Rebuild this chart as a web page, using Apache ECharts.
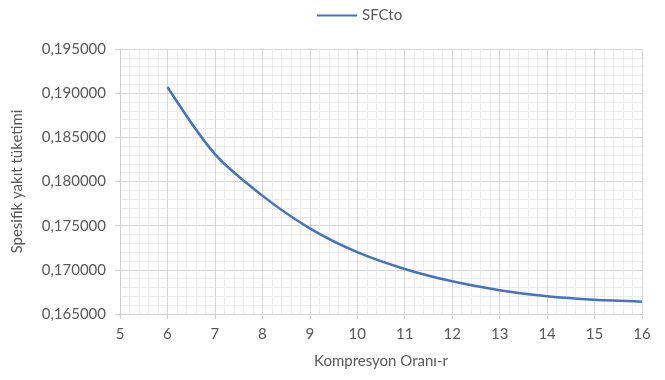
<!DOCTYPE html>
<html>
<head>
<meta charset="utf-8">
<script src="https://cdn.jsdelivr.net/npm/echarts@6/dist/echarts.min.js"></script>
<style>
  html, body { margin: 0; padding: 0; background: #fff; }
  #chart { width: 665px; height: 380px; }
</style>
</head>
<body>
<div id="chart"></div>
<script>
// Compression ratio r and specific fuel consumption SFCto
const compressionRatio = [6, 7, 8, 9, 10, 11, 12, 13, 14, 15, 16];
const sfcTo = [0.1907, 0.1831, 0.1784, 0.1747, 0.1720, 0.1701, 0.1687, 0.1677, 0.1670, 0.1666, 0.1664];
const seriesName = 'SFCto';
const xAxisTitle = 'Kompresyon Oranı-r';
const yAxisTitle = 'Spesifik yakıt tüketimi';

const textColor = '#595959';
const fontFamily = 'Lato, Open Sans, sans-serif';
const fontSize = 15;

const chart = echarts.init(document.getElementById('chart'), null, { renderer: 'canvas' });
chart.setOption({
  animation: false,
  backgroundColor: '#ffffff',
  textStyle: { fontFamily: fontFamily, color: textColor },
  legend: {
    top: 3,
    left: 312,
    itemWidth: 40,
    itemHeight: 12,
    itemGap: 6,
    icon: 'path://M0,5 L40,5 L40,7 L0,7 Z',
    textStyle: { fontSize: 15, color: textColor, fontFamily: fontFamily },
    data: [seriesName]
  },
  grid: { left: 120, right: 23, top: 49, bottom: 66 },
  xAxis: {
    type: 'value',
    min: 5,
    max: 16,
    interval: 1,
    name: xAxisTitle,
    nameLocation: 'middle',
    nameGap: 40,
    nameTextStyle: { fontSize: fontSize, color: textColor },
    axisLine: { show: true, lineStyle: { color: '#d0d0d0', width: 1 } },
    axisTick: { show: true, length: 5, lineStyle: { color: '#d0d0d0' } },
    axisLabel: { fontSize: fontSize, color: textColor, margin: 13 },
    splitLine: { show: true, lineStyle: { color: '#d6d6d6', width: 1 } },
    minorTick: { show: false, splitNumber: 5 },
    minorSplitLine: { show: true, lineStyle: { color: '#ececec', width: 1 } }
  },
  yAxis: {
    type: 'value',
    min: 0.165,
    max: 0.195,
    interval: 0.005,
    name: yAxisTitle,
    nameLocation: 'middle',
    nameGap: 95,
    nameRotate: 90,
    nameTextStyle: { fontSize: fontSize, color: textColor },
    axisLine: { show: true, lineStyle: { color: '#d0d0d0', width: 1 } },
    axisTick: { show: true, length: 5, lineStyle: { color: '#d0d0d0' } },
    axisLabel: {
      fontSize: fontSize,
      color: textColor,
      margin: 14,
      formatter: function (v) { return v.toFixed(6).replace('.', ','); }
    },
    splitLine: { show: true, lineStyle: { color: '#d6d6d6', width: 1 } },
    minorTick: { show: false, splitNumber: 5 },
    minorSplitLine: { show: true, lineStyle: { color: '#ececec', width: 1 } }
  },
  series: [{
    name: seriesName,
    type: 'line',
    data: compressionRatio.map((r, i) => [r, sfcTo[i]]),
    smooth: 0.3,
    showSymbol: false,
    symbol: 'none',
    lineStyle: { color: '#4472C4', width: 2.5 },
    itemStyle: { color: '#4472C4' }
  }]
});
</script>
</body>
</html>
